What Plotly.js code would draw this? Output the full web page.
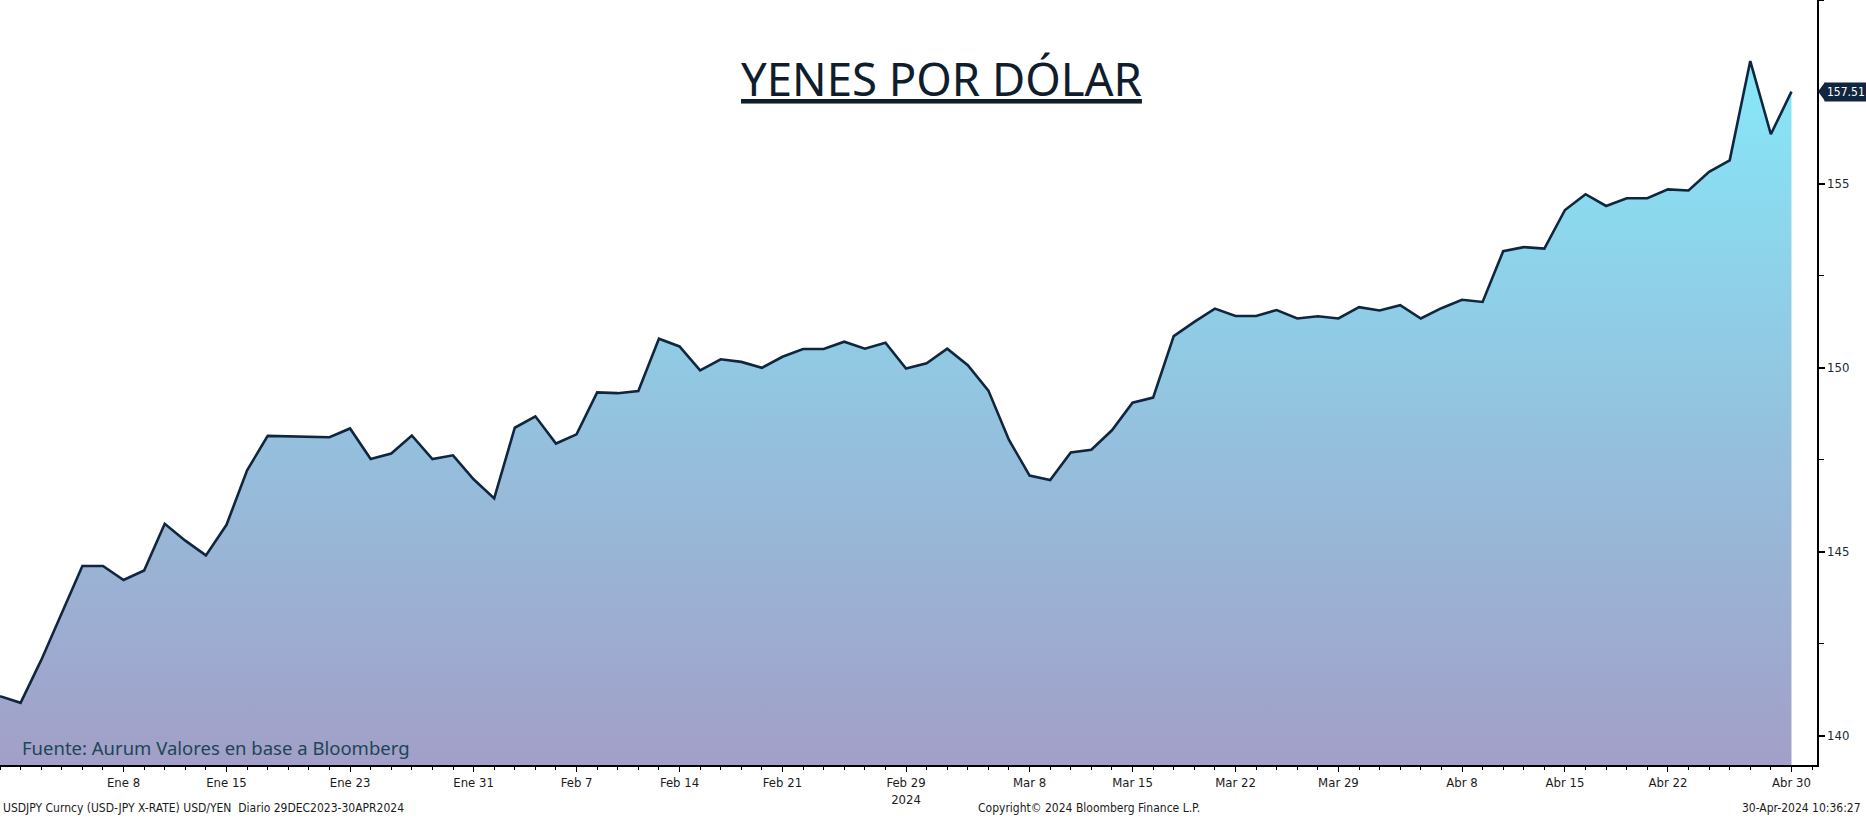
<!DOCTYPE html>
<html>
<head>
<meta charset="utf-8">
<script src="https://cdn.plot.ly/plotly-3.0.1.min.js"></script>
<style>
html,body{margin:0;padding:0;background:#fff;}
#chart{width:1866px;height:818px;}
</style>
</head>
<body>
<div id="chart"></div>
<script>
// Business days (Bloomberg daily, weekdays)
const dates = [
'2023-12-29',
'2024-01-01','2024-01-02','2024-01-03','2024-01-04','2024-01-05',
'2024-01-08','2024-01-09','2024-01-10','2024-01-11','2024-01-12',
'2024-01-15','2024-01-16','2024-01-17','2024-01-18','2024-01-19',
'2024-01-22','2024-01-23','2024-01-24','2024-01-25','2024-01-26',
'2024-01-29','2024-01-30','2024-01-31','2024-02-01','2024-02-02',
'2024-02-05','2024-02-06','2024-02-07','2024-02-08','2024-02-09',
'2024-02-12','2024-02-13','2024-02-14','2024-02-15','2024-02-16',
'2024-02-19','2024-02-20','2024-02-21','2024-02-22','2024-02-23',
'2024-02-26','2024-02-27','2024-02-28','2024-02-29','2024-03-01',
'2024-03-04','2024-03-05','2024-03-06','2024-03-07','2024-03-08',
'2024-03-11','2024-03-12','2024-03-13','2024-03-14','2024-03-15',
'2024-03-18','2024-03-19','2024-03-20','2024-03-21','2024-03-22',
'2024-03-25','2024-03-26','2024-03-27','2024-03-28','2024-03-29',
'2024-04-01','2024-04-02','2024-04-03','2024-04-04','2024-04-05',
'2024-04-08','2024-04-09','2024-04-10','2024-04-11','2024-04-12',
'2024-04-15','2024-04-16','2024-04-17','2024-04-18','2024-04-19',
'2024-04-22','2024-04-23','2024-04-24','2024-04-25','2024-04-26',
'2024-04-29','2024-04-30'
];

// USD/JPY close values
const usdjpy = [
141.07,
140.89,142.05,143.33,144.61,144.61,
144.23,144.49,145.76,145.30,144.90,
145.73,147.21,148.15,148.14,148.12,
148.11,148.35,147.52,147.67,148.16,
147.52,147.62,146.97,146.45,148.37,
148.68,147.94,148.19,149.33,149.31,
149.37,150.79,150.58,149.93,150.23,
150.16,150.00,150.30,150.51,150.51,
150.71,150.52,150.68,149.98,150.12,
150.52,150.07,149.38,148.04,147.07,
146.95,147.70,147.77,148.30,149.05,
149.19,150.86,151.25,151.61,151.41,
151.41,151.57,151.34,151.40,151.34,
151.65,151.56,151.70,151.34,151.62,
151.85,151.79,153.17,153.28,153.24,
154.29,154.72,154.40,154.61,154.61,
154.85,154.82,155.33,155.64,158.34,
156.35,157.51
];

const tickDates = ['2024-01-08','2024-01-15','2024-01-23','2024-01-31','2024-02-07','2024-02-14','2024-02-21','2024-02-29','2024-03-08','2024-03-15','2024-03-22','2024-03-29','2024-04-08','2024-04-15','2024-04-22','2024-04-30'];
const tickLabels = ['Ene 8','Ene 15','Ene 23','Ene 31','Feb 7','Feb 14','Feb 21','Feb 29<br>2024','Mar 8','Mar 15','Mar 22','Mar 29','Abr 8','Abr 15','Abr 22','Abr 30'];

const yTicks = [140,145,150,155];
const yMinorTicks = [142.5,147.5,152.5,157.5,160];

const titleText = 'YENES POR DÓLAR';
const sourceText = 'Fuente: Aurum Valores en base a Bloomberg';
const footLeft = 'USDJPY Curncy (USD-JPY X-RATE) USD/YEN&nbsp;&nbsp;Diario 29DEC2023-30APR2024';
const footMid = 'Copyright© 2024 Bloomberg Finance L.P.';
const footRight = '30-Apr-2024 10:36:27';

const xIdx = dates.map((d, i) => i);
const tickIdx = tickDates.map(d => dates.indexOf(d));
const lastVal = usdjpy[usdjpy.length - 1];
const maxVal = Math.max.apply(null, usdjpy);

const tickFont = 'Tahoma, "DejaVu Sans Condensed", "Liberation Sans Narrow", "DejaVu Sans", sans-serif';
const YMIN = 139.2, YMAX = 160;

const trace = {
  x: xIdx,
  y: usdjpy,
  type: 'scatter',
  mode: 'lines',
  line: {color: '#10263f', width: 2.6},
  fill: 'tozeroy',
  fillgradient: {
    type: 'vertical',
    start: YMIN,
    stop: maxVal,
    colorscale: [[0, '#a29fc8'], [0.5, '#93c3df'], [1, '#86e8f8']]
  },
  hoverinfo: 'skip'
};

const layout = {
  width: 1866,
  height: 818,
  margin: {l: 0, r: 49, t: 0, b: 53, pad: 0},
  paper_bgcolor: '#ffffff',
  plot_bgcolor: '#ffffff',
  showlegend: false,
  xaxis: {
    range: [0, 88.24],
    showgrid: false,
    zeroline: false,
    showline: true,
    linecolor: '#000000',
    linewidth: 1.5,
    ticks: 'outside',
    ticklen: 5,
    tickwidth: 1,
    tickcolor: '#000000',
    tickmode: 'array',
    tickvals: tickIdx,
    ticktext: tickLabels,
    tickfont: {family: tickFont, size: 13, color: '#1b1b1b'},
    minor: {ticks: 'outside', dtick: 1, tick0: 0, ticklen: 3, tickwidth: 1, tickcolor: '#000000', showgrid: false}
  },
  yaxis: {
    side: 'right',
    range: [YMIN, YMAX],
    showgrid: false,
    zeroline: false,
    showline: true,
    linecolor: '#000000',
    linewidth: 1.5,
    ticks: 'outside',
    ticklen: 6,
    tickwidth: 2,
    tickcolor: '#000000',
    tickmode: 'array',
    tickvals: yTicks,
    ticktext: yTicks.map(String),
    tickfont: {family: tickFont, size: 13, color: '#1b2a3a'},
    minor: {ticks: 'outside', tickvals: yMinorTicks, ticklen: 5, tickwidth: 1, tickcolor: '#000000', showgrid: false}
  },
  shapes: [
    {
      type: 'path', xref: 'paper', yref: 'y',
      path: 'M 1.0006,' + lastVal + ' L 1.0045,' + (lastVal + 0.26) + ' L 1.0045,' + (lastVal - 0.26) + ' Z',
      fillcolor: '#10263f', line: {width: 0}
    }
  ],
  annotations: [
    {
      text: '<u>' + titleText + '</u>',
      xref: 'paper', yref: 'paper',
      x: 941 / 1817, y: 1 - 78 / 765,
      xanchor: 'center', yanchor: 'middle',
      showarrow: false,
      font: {family: '"Noto Sans", "Open Sans", sans-serif', size: 45.5, color: '#0f1d2c'}
    },
    {
      text: sourceText,
      xref: 'paper', yref: 'paper',
      x: 20 / 1817, y: 1 - 747 / 765,
      xanchor: 'left', yanchor: 'middle',
      showarrow: false,
      font: {family: '"Noto Sans", "Open Sans", sans-serif', size: 18.5, color: '#1d4656'}
    },
    {
      text: String(lastVal.toFixed(2)),
      xref: 'paper', yref: 'y',
      x: 1, y: lastVal,
      xanchor: 'left', yanchor: 'middle',
      xshift: 7,
      showarrow: false,
      bgcolor: '#10263f',
      borderpad: 2,
      font: {family: tickFont, size: 12, color: '#ffffff'}
    },
    {
      text: footLeft,
      xref: 'paper', yref: 'paper',
      x: 1 / 1817, y: 1 - 808 / 765,
      xanchor: 'left', yanchor: 'middle',
      showarrow: false,
      font: {family: tickFont, size: 12, color: '#1b1b1b'}
    },
    {
      text: footMid,
      xref: 'paper', yref: 'paper',
      x: 1089 / 1817, y: 1 - 808 / 765,
      xanchor: 'center', yanchor: 'middle',
      showarrow: false,
      font: {family: tickFont, size: 12, color: '#1b1b1b'}
    },
    {
      text: footRight,
      xref: 'paper', yref: 'paper',
      x: 1863 / 1817, y: 1 - 808 / 765,
      xanchor: 'right', yanchor: 'middle',
      showarrow: false,
      font: {family: tickFont, size: 12, color: '#1b1b1b'}
    }
  ]
};

Plotly.newPlot('chart', [trace], layout, {displayModeBar: false, staticPlot: true});
</script>
</body>
</html>
